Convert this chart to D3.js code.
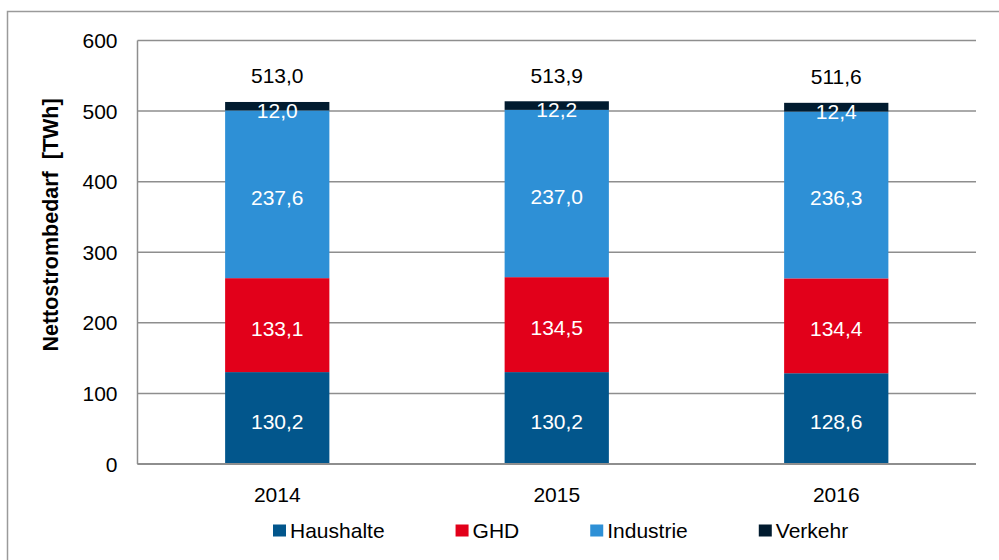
<!DOCTYPE html>
<meta charset="utf-8">
<style>
body { margin: 0; background: #fff; }
svg { display: block; font-family: "Liberation Sans", Arial, sans-serif; }
.grid line { stroke: #8e8e8e; stroke-width: 1.5; }
</style>
<body>
<script src="https://d3js.org/d3.v7.min.js"></script>
<script>

// data (TWh)
var years = ["2014", "2015", "2016"];
var sectors = ["Haushalte", "GHD", "Industrie", "Verkehr"];
var haushalte = [130.2, 130.2, 128.6];
var ghd = [133.1, 134.5, 134.4];
var industrie = [237.6, 237.0, 236.3];
var verkehr = [12.0, 12.2, 12.4];
var totals = [513.0, 513.9, 511.6];
var yTicks = [0, 100, 200, 300, 400, 500, 600];
var colors = ["#02568c", "#e2001a", "#2e90d6", "#011b2f"];

var width = 999, height = 560;
var margin = {top: 40.5, right: 23, bottom: 96, left: 137.5};

var svg = d3.select("body").append("svg")
    .attr("width", width)
    .attr("height", height);

svg.append("rect").attr("width", width).attr("height", height).attr("fill", "#fff");

// outer frame
svg.append("rect")
    .attr("x", 7.5).attr("y", 11.5)
    .attr("width", width).attr("height", height)
    .attr("fill", "none")
    .attr("stroke", "#9a9a9a")
    .attr("stroke-width", 1.5);

var x = d3.scaleBand()
    .domain(years)
    .range([margin.left, width - margin.right])
    .paddingInner(0.627)
    .paddingOuter(0.3135);

var y = d3.scaleLinear()
    .domain([0, 600])
    .range([height - margin.bottom, margin.top]);

// gridlines
svg.append("g").attr("class", "grid")
  .selectAll("line")
  .data(yTicks)
  .enter().append("line")
    .attr("x1", margin.left)
    .attr("x2", width - margin.right)
    .attr("y1", function(d) { return y(d); })
    .attr("y2", function(d) { return y(d); });

// build stacked table
var table = years.map(function(yr, i) {
  return {year: yr, Haushalte: haushalte[i], GHD: ghd[i], Industrie: industrie[i], Verkehr: verkehr[i], total: totals[i]};
});
var series = d3.stack().keys(sectors)(table);

var layers = svg.append("g")
  .selectAll("g")
  .data(series)
  .enter().append("g")
    .attr("fill", function(d, i) { return colors[i]; });

layers.selectAll("rect")
  .data(function(d) { return d; })
  .enter().append("rect")
    .attr("x", function(d) { return x(d.data.year); })
    .attr("width", x.bandwidth())
    .attr("y", function(d) { return y(d[1]); })
    .attr("height", function(d) { return y(d[0]) - y(d[1]); });

// value labels inside segments
layers.selectAll("text")
  .data(function(d) { return d.map(function(p) { return {p: p, key: d.key}; }); })
  .enter().append("text")
    .attr("x", function(d) { return x(d.p.data.year) + x.bandwidth() / 2; })
    .attr("y", function(d) { return (y(d.p[0]) + y(d.p[1])) / 2; })
    .attr("dy", function(d) { return d.key === "Verkehr" ? "0.55em" : "0.5em"; })
    .attr("text-anchor", "middle")
    .attr("fill", "#fff")
    .style("font-size", "21px")
    .text(function(d) { return d3.format(".1f")(d.p.data[d.key]).replace(".", ","); });

// totals above bars
svg.append("g")
  .selectAll("text")
  .data(table)
  .enter().append("text")
    .attr("x", function(d) { return x(d.year) + x.bandwidth() / 2; })
    .attr("y", function(d) { return y(d.total) - 26; })
    .attr("dy", "0.36em")
    .attr("text-anchor", "middle")
    .attr("fill", "#000")
    .style("font-size", "21px")
    .text(function(d) { return d3.format(".1f")(d.total).replace(".", ","); });

// y axis line
svg.append("line")
    .attr("x1", margin.left).attr("x2", margin.left)
    .attr("y1", y(600)).attr("y2", y(0))
    .attr("stroke", "#8e8e8e").attr("stroke-width", 1.5);

// baseline
svg.append("line")
    .attr("x1", margin.left).attr("x2", width - margin.right)
    .attr("y1", y(0)).attr("y2", y(0))
    .attr("stroke", "#8e8e8e").attr("stroke-width", 2);

// y tick labels
svg.append("g")
  .selectAll("text")
  .data(yTicks)
  .enter().append("text")
    .attr("x", margin.left - 20)
    .attr("y", function(d) { return y(d); })
    .attr("dy", "0.36em")
    .attr("text-anchor", "end")
    .style("font-size", "21px")
    .text(function(d) { return d; });

// x labels
svg.append("g")
  .selectAll("text")
  .data(years)
  .enter().append("text")
    .attr("x", function(d) { return x(d) + x.bandwidth() / 2; })
    .attr("y", y(0) + 30)
    .attr("dy", "0.36em")
    .attr("text-anchor", "middle")
    .style("font-size", "21px")
    .text(function(d) { return d; });

// y axis title
svg.append("text")
    .attr("transform", "translate(50," + 225 + ") rotate(-90)")
    .attr("dy", "0.36em")
    .attr("text-anchor", "middle")
    .style("font-size", "21.5px")
    .style("font-weight", "bold")
    .style("white-space", "pre")
    .text("Nettostrombedarf  [TWh]");

// legend
var legend = svg.append("g").attr("transform", "translate(273,530.5)");
var lx = 0;
sectors.forEach(function(s, i) {
  var g = legend.append("g").attr("transform", "translate(" + lx + ",0)");
  g.append("rect")
      .attr("x", 0).attr("y", -6)
      .attr("width", 13).attr("height", 12)
      .attr("fill", colors[i]);
  var t = g.append("text")
      .attr("x", 17)
      .attr("dy", "0.36em")
      .style("font-size", "21px")
      .text(s);
  lx += 17 + t.node().getComputedTextLength() + 71;
});

</script>
</body>
